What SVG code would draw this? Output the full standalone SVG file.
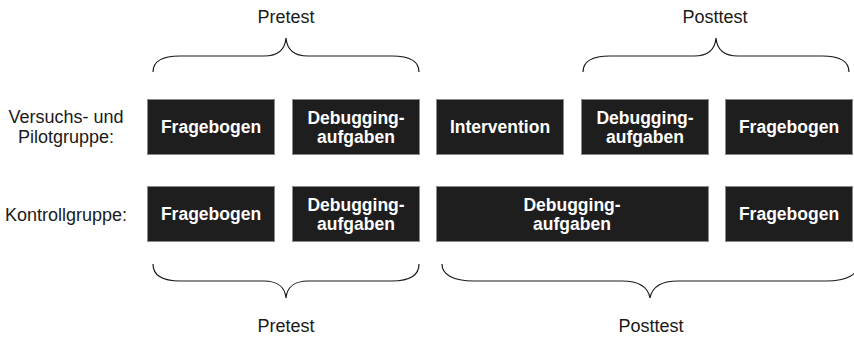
<svg xmlns="http://www.w3.org/2000/svg" width="854" height="337" viewBox="0 0 854 337">
<style>
.box{fill:#1e1e1e;stroke:#8a8a8a;stroke-width:1}
.bt{font-family:"Liberation Sans",Arial,sans-serif;font-weight:bold;font-size:17.5px;fill:#ffffff;text-anchor:middle}
.lt{font-family:"Liberation Sans",Arial,sans-serif;font-size:18px;fill:#1a1a1a;text-anchor:middle}
.br{fill:none;stroke:#1a1a1a;stroke-width:1.2}
</style>
<rect width="854" height="337" fill="#ffffff"/>
<g id="labels">
<text class="lt" x="66" y="123">Versuchs- und</text>
<text class="lt" x="66" y="143">Pilotgruppe:</text>
<text class="lt" x="66" y="221">Kontrollgruppe:</text>
<text class="lt" x="286" y="23">Pretest</text>
<text class="lt" x="715" y="23">Posttest</text>
<text class="lt" x="286" y="332">Pretest</text>
<text class="lt" x="651" y="332">Posttest</text>
</g>
<g id="braces">
<path class="br" d="M153,72 C153,62 160,56 180,56 L264,56 C277,56 285,50 286,38 C287,50 295,56 308,56 L392,56 C412,56 419,62 419,72"/>
<path class="br" d="M583,72 C583,62 590,56 610,56 L694,56 C707,56 715,50 716,38 C717,50 725,56 738,56 L822,56 C842,56 849,62 849,72"/>
<path class="br" d="M153,264 C153,274 160,281 180,281 L264,281 C277,281 285,287 286,298 C287,287 295,281 308,281 L392,281 C412,281 419,274 419,264"/>
<path class="br" d="M442,264 C442,274 452,281 474,281 L622,281 C638,281 648,287 650,298 C652,287 662,281 678,281 L826,281 C848,281 858,274 858,264"/>
</g>
<g id="n1"><rect class="box" x="147.5" y="99.5" width="127" height="55"/><text class="bt" x="211" y="133">Fragebogen</text></g>
<g id="n2"><rect class="box" x="292.5" y="99.5" width="127" height="55"/><text class="bt" x="356" y="124">Debugging-</text><text class="bt" x="356" y="143">aufgaben</text></g>
<g id="n3"><rect class="box" x="436.5" y="99.5" width="127" height="55"/><text class="bt" x="500" y="133">Intervention</text></g>
<g id="n4"><rect class="box" x="581.5" y="99.5" width="127" height="55"/><text class="bt" x="645" y="124">Debugging-</text><text class="bt" x="645" y="143">aufgaben</text></g>
<g id="n5"><rect class="box" x="725.5" y="99.5" width="127" height="55"/><text class="bt" x="789" y="133">Fragebogen</text></g>
<g id="n6"><rect class="box" x="147.5" y="186.5" width="127" height="55"/><text class="bt" x="211" y="220">Fragebogen</text></g>
<g id="n7"><rect class="box" x="292.5" y="186.5" width="127" height="55"/><text class="bt" x="356" y="211">Debugging-</text><text class="bt" x="356" y="230">aufgaben</text></g>
<g id="n8"><rect class="box" x="436.5" y="186.5" width="272" height="55"/><text class="bt" x="572" y="211">Debugging-</text><text class="bt" x="572" y="230">aufgaben</text></g>
<g id="n9"><rect class="box" x="725.5" y="186.5" width="127" height="55"/><text class="bt" x="789" y="220">Fragebogen</text></g>
<g id="connectors"></g>
</svg>
